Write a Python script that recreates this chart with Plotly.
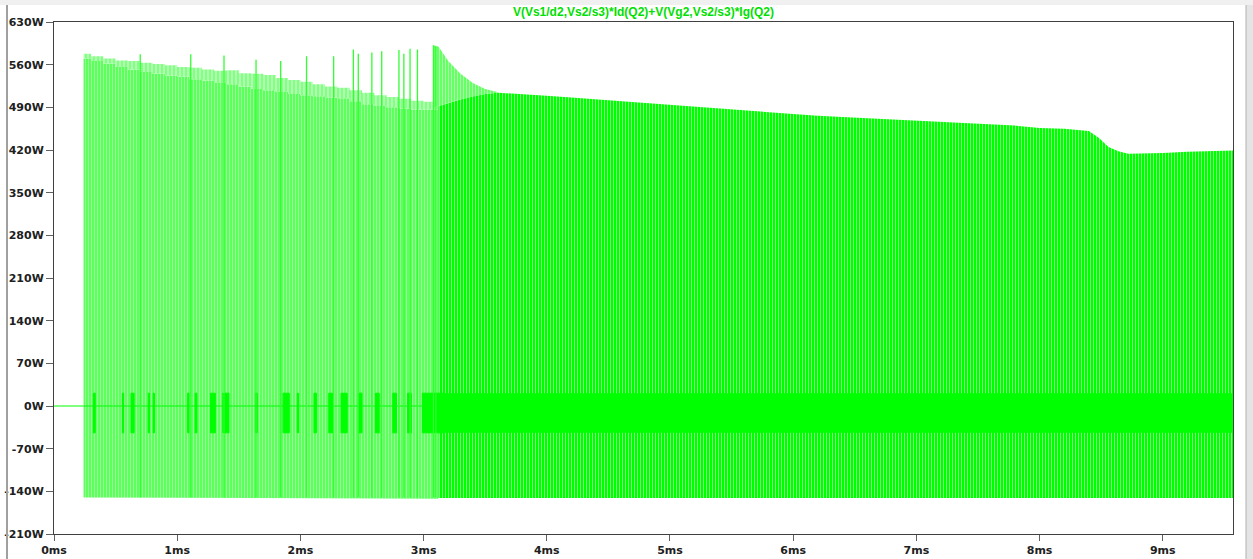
import plotly.graph_objects as go

# ---- data (time in ms, power in W) ----
early_t = [0.24, 0.30, 0.40, 0.50, 0.60, 0.70, 0.80, 0.90, 1.00, 1.10, 1.20, 1.30, 1.40, 1.50,
           1.60, 1.70, 1.80, 1.90, 2.00, 2.10, 2.20, 2.30, 2.40, 2.50, 2.60, 2.70, 2.80, 2.90,
           3.00, 3.12]
# tallest spikes of each stretch
early_top_hi = [578, 574, 570, 567, 566, 563, 561, 559, 556, 555, 552, 550, 551, 546,
                545, 543, 538, 535, 532, 528, 524, 522, 518, 514, 510, 507, 504, 501,
                499, 500]
# typical (shorter) spikes
early_top_lo = [570, 566, 562, 556, 552, 548, 545, 542, 540, 536, 534, 530, 528, 524,
                520, 518, 515, 512, 510, 508, 506, 505, 500, 495, 492, 490, 488, 486,
                486, 490]
early_bottom = [-150, -152]

late_t = [3.12, 3.20, 3.30, 3.40, 3.50, 3.60, 3.80, 4.00, 4.20, 4.40, 4.60, 4.80, 5.00, 5.20,
          5.40, 5.60, 5.80, 6.00, 6.20, 6.40, 6.60, 6.80, 7.00, 7.20, 7.40, 7.60, 7.80, 8.00,
          8.20, 8.40, 8.48, 8.56, 8.64, 8.72, 8.80, 9.00, 9.20, 9.40, 9.57]
late_top = [492, 497, 503, 508, 512, 514, 512, 509, 506, 503, 499, 496, 494, 491,
            488, 484, 481, 478, 476, 474, 472, 470, 468, 467, 465, 462, 460, 456,
            455, 451, 440, 425, 418, 414, 414, 415, 417, 418, 419]
late_bottom = [-151, -151]

# decaying tall spikes right after the transition
decay_t = [3.08, 3.12, 3.20, 3.30, 3.40, 3.50, 3.60]
decay_hi = [592, 590, 566, 545, 530, 520, 515]
decay_lo = [490, 492, 497, 503, 508, 512, 514]

spike_t = [0.70, 1.11, 1.38, 1.64, 1.84, 2.05, 2.27, 2.43, 2.47, 2.58, 2.66, 2.80, 2.84,
           2.89, 2.95, 3.08, 3.10]
spike_w = [577, 577, 575, 568, 566, 574, 574, 585, 578, 580, 582, 584, 578,
           586, 585, 592, 590]

block_start = [0.32, 0.555, 0.625, 0.765, 0.805, 1.085, 1.145, 1.27, 1.37, 1.635, 1.86, 1.975,
               2.11, 2.23, 2.33, 2.47, 2.61, 2.75, 2.87, 2.99]
block_end = [0.335, 0.565, 0.65, 0.775, 0.815, 1.095, 1.16, 1.31, 1.42, 1.65, 1.91, 1.985,
             2.13, 2.26, 2.38, 2.50, 2.64, 2.78, 2.90, 3.17]
block_high = 21
block_low = -44

band_t = [3.17, 9.57]
band_high = [21, 21]
band_low = [-44, -44]

baseline_t = [0.0, 3.17]
baseline_w = [0, 0]

y_ticks = [-210, -140, -70, 0, 70, 140, 210, 280, 350, 420, 490, 560, 630]
y_labels = [f"{v}W" for v in y_ticks]
x_ticks = [0, 1, 2, 3, 4, 5, 6, 7, 8, 9]
x_labels = [f"{v}ms" for v in x_ticks]

title_text = "V(Vs1/d2,Vs2/s3)*Id(Q2)+V(Vg2,Vs2/s3)*Ig(Q2)"

GREEN = "#00ff00"
fig = go.Figure()


def band(x, lo, hi, fg, bg, size, solidity, shape="linear"):
    fig.add_trace(go.Scatter(x=x, y=lo, mode="lines", line=dict(width=0, color=bg, shape=shape),
                             hoverinfo="skip", showlegend=False))
    fig.add_trace(go.Scatter(x=x, y=hi, mode="lines", fill="tonexty",
                             line=dict(width=0, color=bg, shape=shape), fillcolor=bg,
                             fillpattern=dict(shape="|", fgcolor=fg, bgcolor=bg,
                                              size=size, solidity=solidity),
                             hoverinfo="skip", showlegend=False))


# early region: main mass and sparser taller tops
band([early_t[0], early_t[-1]], early_bottom, [early_top_lo[0], early_top_lo[-1]],
     "white", "#30ff30", 3, 0.62)
fig.data[-1].update(x=early_t, y=early_top_lo, line=dict(shape="hv"))
band(early_t, early_top_lo, early_top_hi, "white", "#60ff60", 4, 0.72, shape="hv")

# late region (dense spikes)
band([late_t[0], late_t[-1]], late_bottom, [late_top[0], late_top[-1]], "white", GREEN, 3, 0.33)
fig.data[-1].update(x=late_t, y=late_top)
band(decay_t, decay_lo, decay_hi, "white", "#50ff50", 3, 0.5)

# solid band
fig.add_trace(go.Scatter(x=band_t, y=band_low, mode="lines", line=dict(width=0, color=GREEN),
                         hoverinfo="skip", showlegend=False))
fig.add_trace(go.Scatter(x=band_t, y=band_high, mode="lines", fill="tonexty",
                         line=dict(width=0, color=GREEN), fillcolor=GREEN,
                         hoverinfo="skip", showlegend=False))

# baseline
fig.add_trace(go.Scatter(x=baseline_t, y=baseline_w, mode="lines",
                         line=dict(width=1, color=GREEN), hoverinfo="skip", showlegend=False))

# early blocks (closed polygons separated by gaps)
bx, by = [], []
for s, e in zip(block_start, block_end):
    bx += [s, e, e, s, s, None]
    by += [block_low, block_low, block_high, block_high, block_low, None]
fig.add_trace(go.Scatter(x=bx, y=by, mode="lines", fill="toself", fillcolor=GREEN,
                         line=dict(width=1, color=GREEN), hoverinfo="skip", showlegend=False))

# tall isolated spikes
sx, sy = [], []
for t, w in zip(spike_t, spike_w):
    sx += [t, t, None]
    sy += [-150, w, None]
fig.add_trace(go.Scatter(x=sx, y=sy, mode="lines", line=dict(width=1.3, color="#30ff30"),
                         hoverinfo="skip", showlegend=False))

W, H = 1253, 559
L, R, T, B = 54, 20, 22, 25
pw, ph = W - L - R, H - T - B

def px(xp):
    return (xp - L) / pw

def py(yp):
    return (H - B - yp) / ph

tickfont = dict(family="DejaVu Sans", size=11, color="#202020", weight="bold")

fig.update_layout(
    width=W, height=H,
    margin=dict(l=L, r=R, t=T, b=B, autoexpand=False),
    paper_bgcolor="white", plot_bgcolor="white",
    title=dict(text=title_text, x=0.5, xref="paper", xanchor="center",
               y=1 - 12 / H, yref="container", yanchor="middle",
               font=dict(family="Liberation Sans", size=12, color="#00e000", weight="bold")),
    xaxis=dict(range=[0, 9.57], tickvals=x_ticks, ticktext=x_labels, showgrid=False,
               zeroline=False, ticks="outside", ticklen=6, tickcolor="#606060",
               showline=True, linecolor="#404040", linewidth=1, mirror=True,
               tickfont=tickfont, automargin=False),
    yaxis=dict(range=[-210, 630], tickvals=y_ticks, ticktext=y_labels, showgrid=False,
               zeroline=False, ticks="outside", ticklen=7, tickcolor="#606060",
               showline=True, linecolor="#404040", linewidth=1, mirror=True,
               tickfont=tickfont, automargin=False),
    shapes=[
        dict(type="rect", xref="paper", yref="paper", x0=px(0), x1=px(W), y0=py(5), y1=py(0),
             fillcolor="#f0f0f0", line=dict(width=0), layer="below"),
        dict(type="line", xref="paper", yref="paper", x0=px(7), x1=px(7), y0=py(H), y1=py(5),
             line=dict(color="#a0a0a0", width=2)),
        dict(type="rect", xref="paper", yref="paper", x0=px(1246), x1=px(W), y0=py(H), y1=py(5),
             fillcolor="#e4e4e4", line=dict(width=0)),
        dict(type="line", xref="paper", yref="paper", x0=px(1246), x1=px(1246), y0=py(H), y1=py(5),
             line=dict(color="#b0b0b0", width=1)),
    ],
)

fig.write_html("out.html", config={"displayModeBar": False},
               post_script="document.body.style.margin='0';document.body.style.overflow='hidden';")
